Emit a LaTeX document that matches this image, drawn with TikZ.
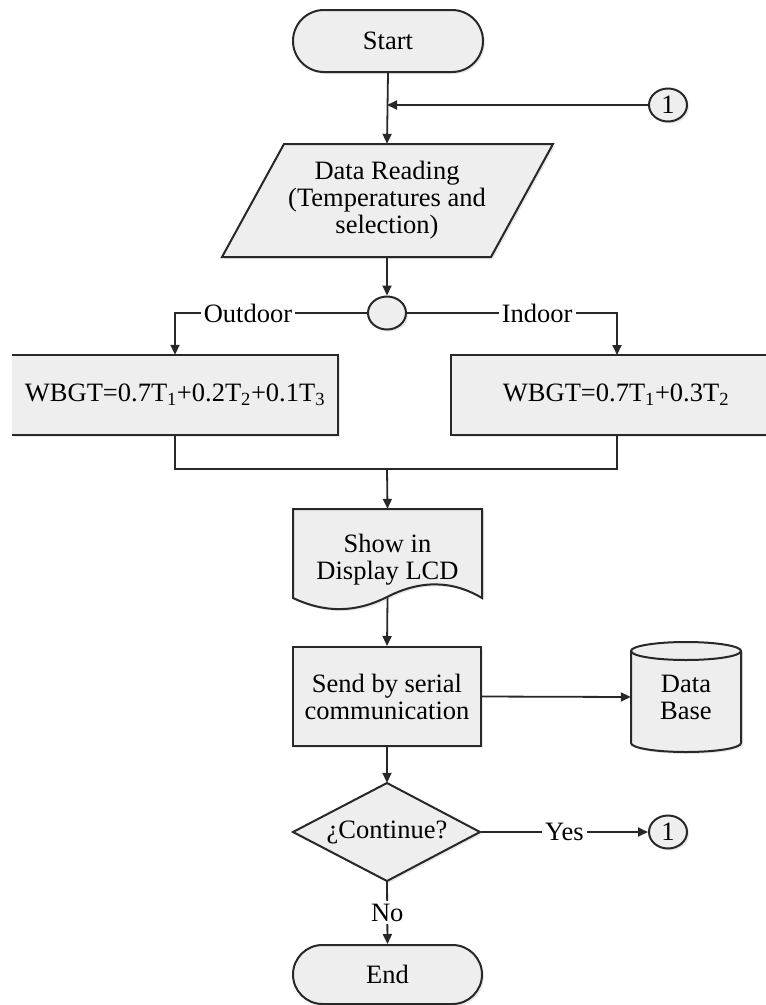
\documentclass[tikz,border=0pt]{standalone}
\usepackage{fontspec}
\setmainfont{Liberation Serif}
\usetikzlibrary{arrows.meta,shapes.geometric,calc,shadows}
\definecolor{lc}{RGB}{40,40,40}
\definecolor{bf}{RGB}{238,238,238}
\begin{document}
\begin{tikzpicture}[x=1pt,y=1pt,
  font=\fontsize{26.5}{27}\selectfont,
  shp/.style={draw=lc, line width=2pt, fill=bf, drop shadow={opacity=0.18, shadow xshift=2pt, shadow yshift=-2pt}},
  fillonly/.style={fill=bf, draw=none},
  txt/.style={align=center, inner sep=0pt},
  line/.style={draw=lc, line width=1.8pt},
  arr/.style={line, -{Triangle[length=10pt,width=9pt]}},
  lbl/.style={fill=white, inner sep=3pt, text=black},
  conn/.style={shp, ellipse, minimum width=38pt, minimum height=33pt, inner sep=0pt},
]
\useasboundingbox (0,0) rectangle (766,-1005);

% Start
\node[shp, rounded corners=31pt, minimum width=190pt, minimum height=62pt, inner sep=0pt] (start) at (388,-41) {Start};

% connector 1 (top)
\node[conn] (c1) at (668,-105) {1};
\coordinate (j) at (387,-105);

% Data reading parallelogram
\path[shp] (284,-144) -- (553,-144) -- (491,-257) -- (222,-257) -- cycle;
\node[txt, minimum width=207pt, minimum height=113pt] (read) at (387,-200.5) {Data Reading\\(Temperatures and\\selection)};

% split circle
\node[conn] (sw) at (387,-313) {};

% left box (open on the left)
\node[fillonly, drop shadow={opacity=0.18, shadow xshift=2pt, shadow yshift=-2pt}, minimum width=326pt, minimum height=80pt, inner sep=0pt] (wl) at (175,-395) {WBGT=0.7T\textsubscript{1}+0.2T\textsubscript{2}+0.1T\textsubscript{3}};
\draw[line, line width=2pt] (wl.north west) -- (wl.north east) -- (wl.south east) -- (wl.south west);

% right box (runs off the right edge)
\node[shp, minimum width=339pt, minimum height=80pt, inner sep=0pt] (wr) at (620.5,-395) {};
\node[txt] (wrt) at (616,-395) {WBGT=0.7T\textsubscript{1}+0.3T\textsubscript{2}};
\coordinate (wrin) at (617,-355);
\coordinate (wrout) at (617,-435);

% merge point
\coordinate (m) at (387,-469);

% Display document
\path[shp] (293,-509) -- (482,-509) -- (482,-598)
  .. controls (452,-580) and (420,-580) .. (387,-597)
  .. controls (355,-613) and (325,-613) .. (293,-598) -- cycle;
\node[minimum width=189pt, minimum height=89pt, inner sep=0pt] (disp) at (387.5,-553.5) {};
\node[txt] (dispt) at (387.5,-560) {Show in\\Display LCD};

% Send box
\node[shp, txt, minimum width=188pt, minimum height=99pt] (send) at (387,-696.5) {Send by serial\\communication};

% Data base cylinder
\path[shp] (631,-651) -- (631,-743) arc[start angle=180, end angle=360, x radius=55, y radius=9]
  -- (741,-651) arc[start angle=0, end angle=180, x radius=55, y radius=9] -- cycle;
\draw[line, line width=2pt] (631,-651) arc[start angle=180, end angle=360, x radius=55, y radius=9];
\node[txt, minimum width=110pt, minimum height=110pt] (db) at (686,-697) {Data\\Base};

% Decision diamond
\path[shp] (387,-783) -- (480,-832) -- (387,-881) -- (293,-832) -- cycle;
\node[txt, minimum width=187pt, minimum height=98pt] (cont) at (387,-832) {¿Continue?};

% connector 1 (bottom)
\node[conn] (c2) at (668,-832) {1};

% End
\node[shp, rounded corners=29.5pt, minimum width=189pt, minimum height=59pt, inner sep=0pt] (end) at (387.5,-974.5) {End};

% connectors
\draw[arr] (start.south) -- (read.north);
\draw[arr] (c1.west) -- (j);
\draw[arr] (read.south) -- (sw.north);
\draw[arr] (sw.west) -| node[lbl, pos=0.31] {Outdoor} (wl.north);
\draw[arr] (sw.east) -| node[lbl, pos=0.31] {Indoor} (wrin);
\draw[line] (wl.south) |- (m);
\draw[line] (wrout) |- (m);
\draw[arr] (m) -- (disp.north);
\draw[arr] (disp.south) -- (send.north);
\draw[arr] (send.east) -- (db.west);
\draw[arr] (send.south) -- (cont.north);
\draw[arr] (cont.east) -- node[lbl] {Yes} (c2.west);
\draw[arr] (cont.south) -- node[lbl] {No} (end.north);
\end{tikzpicture}
\end{document}
